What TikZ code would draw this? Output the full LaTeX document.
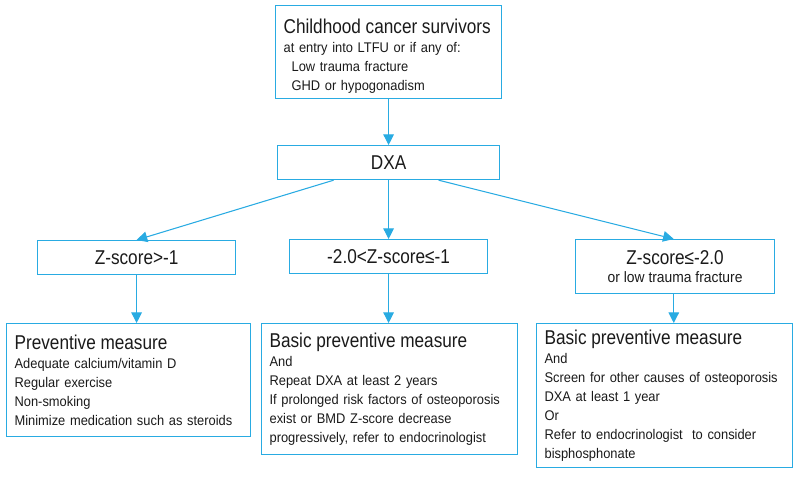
\documentclass[tikz,border=0pt]{standalone}
\usepackage{fontspec}
\setmainfont[FakeStretch=0.92]{Liberation Sans}
\newfontfamily\hdfont[FakeStretch=0.86]{Liberation Sans}
\usetikzlibrary{arrows.meta}
\definecolor{ln}{HTML}{29ABE2}
\definecolor{txt}{HTML}{1A1A1A}
\hyphenpenalty=10000
\tikzset{
  box/.style={draw=ln, line width=0.9pt, inner xsep=6pt, inner ysep=0pt, anchor=north west,
    text=txt, font=\fontsize{10.5}{14.25}\selectfont},
  lbox/.style={box, align=left},
  cbox/.style={box, align=center},
  a/.style={draw=ln, line width=0.8pt, -{Triangle[length=8pt, width=8pt]}},
}
\newcommand{\hd}[1]{{\hdfont\fontsize{15}{17}\selectfont #1}}

\begin{document}
\begin{tikzpicture}[x=0.75pt, y=-0.75pt]
  \useasboundingbox (0,0) rectangle (797,485);
  % entry
  \node[lbox, text width=157.5pt, minimum height=69.75pt] (top) at (275,5)
    {\rule{0pt}{17pt}\hd{Childhood cancer survivors}\\at entry into LTFU or if any of:\\
     \hspace*{6pt}Low trauma fracture\\\hspace*{6pt}GHD or hypogonadism};
  \node[cbox, minimum width=166.5pt, minimum height=25.5pt] (dxa) at (277,145) {\hd{DXA}};

  % z-score classes
  \node[cbox, minimum width=148.5pt, minimum height=25.5pt] (z1) at (37,240) {\hd{Z-score>-1}};
  \node[cbox, minimum width=148.5pt, minimum height=25.5pt] (z2) at (289,239) {\hd{-2.0<Z-score≤-1}};
  \node[cbox, minimum width=149.25pt, minimum height=40.5pt] (z3) at (575,239)
    {\hd{Z-score≤-2.0}\\[-1pt]{\fontsize{11.3}{13}\selectfont or low trauma fracture}};

  % measures
  \node[lbox, text width=171pt, minimum height=84.75pt] (p1) at (6,323)
    {\hd{Preventive measure}\\Adequate calcium/vitamin D\\Regular exercise\\Non-smoking\\
     Minimize medication such as steroids};
  \node[lbox, text width=180pt, minimum height=98.25pt] (p2) at (261,323)
    {\hd{Basic preventive measure}\\And\\Repeat DXA at least 2 years\\
     If prolonged risk factors of osteoporosis\\exist or BMD Z-score decrease\\
     progressively, refer to endocrinologist};
  \node[lbox, text width=180pt, minimum height=108pt] (p3) at (536,323)
    {\hd{Basic preventive measure}\\And\\Screen for other causes of osteoporosis\\
     DXA at least 1 year\\Or\\Refer to endocrinologist\ \ to consider\\bisphosphonate};

  % arrows
  \draw[a] (top) -- (dxa);
  \draw[a] ([xshift=-41.25pt]dxa.south) -- (z1.north);
  \draw[a] (dxa) -- (z2);
  \draw[a] ([xshift=37.5pt]dxa.south) -- ([xshift=-1pt]z3.north);
  \draw[a] (z1.south) -- (z1.south |- p1.north);
  \draw[a] (z2.south) -- (z2.south |- p2.north);
  \draw[a] ([xshift=-1pt]z3.south) -- ([xshift=-1pt]z3.south |- p3.north);
\end{tikzpicture}
\end{document}
